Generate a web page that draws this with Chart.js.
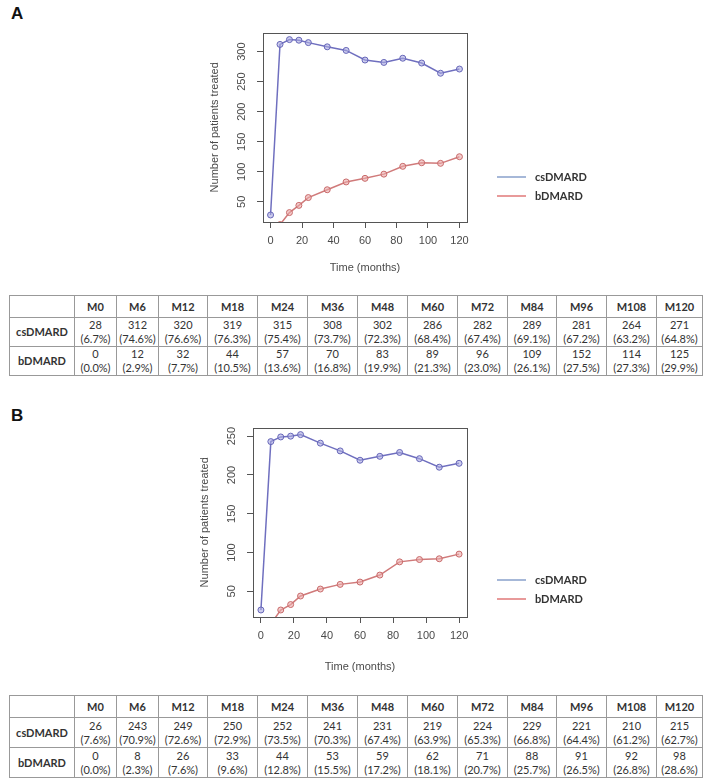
<!DOCTYPE html>
<html>
<head>
<meta charset="utf-8">
<script src="https://cdn.jsdelivr.net/npm/chart.js@4.4.1/dist/chart.umd.min.js"></script>
<style>
body{margin:0;background:#fff;width:708px;height:782px;position:relative;overflow:hidden;font-family:"Liberation Sans",Arial,sans-serif}
.panel{position:absolute;font-weight:bold;font-size:17px;color:#111}
canvas{position:absolute}
.leg{position:absolute;font-family:Lato,sans-serif;font-weight:bold;font-size:11px;color:#333}
.leg div{position:relative;height:19px;line-height:19px;padding-left:38px}
.leg span{position:absolute;left:0;top:9px;width:29px;height:2px}
table{position:absolute;border-collapse:collapse;table-layout:fixed;font-family:Lato,sans-serif;font-size:11px;color:#333}
td{border:1px solid #999;text-align:center;padding:0;line-height:14px}
td.h{font-weight:bold}
</style>
</head>
<body>
<div class="panel" style="left:11px;top:4px">A</div>
<div class="panel" style="left:11px;top:406px">B</div>

<canvas id="chartA" width="420" height="260" style="left:180px;top:20px"></canvas>
<canvas id="chartB" width="430" height="260" style="left:170px;top:415px"></canvas>

<div class="leg" style="left:497px;top:167px">
  <div><span style="background:#a6b8d8"></span>csDMARD</div>
  <div><span style="background:#e89a9a"></span>bDMARD</div>
</div>
<div class="leg" style="left:497px;top:570px">
  <div><span style="background:#a6b8d8"></span>csDMARD</div>
  <div><span style="background:#e89a9a"></span>bDMARD</div>
</div>

<table id="tableA" style="left:9px;top:295px"></table>
<table id="tableB" style="left:9px;top:695px"></table>

<script>
// time points (months) and table headers
const months = [0, 6, 12, 18, 24, 36, 48, 60, 72, 84, 96, 108, 120];
const colLabels = ['M0','M6','M12','M18','M24','M36','M48','M60','M72','M84','M96','M108','M120'];
const xTicks = [0, 20, 40, 60, 80, 100, 120];

// panel A
const csA = [28, 312, 320, 319, 315, 308, 302, 286, 282, 289, 281, 264, 271];
const csApct = ['6.7','74.6','76.6','76.3','75.4','73.7','72.3','68.4','67.4','69.1','67.2','63.2','64.8'];
const bA = [0, 12, 32, 44, 57, 70, 83, 89, 96, 109, 152, 114, 125];     // as printed in the table
const bAplot = [0, 12, 32, 44, 57, 70, 83, 89, 96, 109, 115, 114, 125]; // as drawn in the plot
const bApct = ['0.0','2.9','7.7','10.5','13.6','16.8','19.9','21.3','23.0','26.1','27.5','27.3','29.9'];
const yTicksA = [50, 100, 150, 200, 250, 300];

// panel B
const csB = [26, 243, 249, 250, 252, 241, 231, 219, 224, 229, 221, 210, 215];
const csBpct = ['7.6','70.9','72.6','72.9','73.5','70.3','67.4','63.9','65.3','66.8','64.4','61.2','62.7'];
const bB = [0, 8, 26, 33, 44, 53, 59, 62, 71, 88, 91, 92, 98];
const bBpct = ['0.0','2.3','7.6','9.6','12.8','15.5','17.2','18.1','20.7','25.7','26.5','26.8','28.6'];
const yTicksB = [50, 100, 150, 200, 250];

const colWidths = [65, 42, 42, 49, 50, 50, 50, 50, 50, 50, 49, 50, 50, 46];

const axisColor = '#555';
const textColor = '#4a4a4a';
const axisFont = {family: '"Liberation Sans", Arial, sans-serif', size: 11};

// R style plot frame
const boxPlugin = {
    id: 'box',
    afterDatasetsDraw(chart) {
        const a = chart.chartArea;
        const ctx = chart.ctx;
        ctx.save();
        ctx.strokeStyle = axisColor;
        ctx.lineWidth = 1;
        ctx.strokeRect(Math.round(a.left) + 0.5, Math.round(a.top) + 0.5, Math.round(a.right - a.left), Math.round(a.bottom - a.top));
        ctx.restore();
    }
};

function makeChart(id, cs, b, yTicks, rightPad, yWidth, xTitlePad) {
    // R default axis range: data range of the first series plus 4%
    const lo = Math.min(...cs), hi = Math.max(...cs);
    const ext = (hi - lo) * 0.04;
    new Chart(document.getElementById(id), {
        type: 'line',
        data: {
            datasets: [
                {
                    label: 'csDMARD',
                    data: months.map((m, i) => ({x: m, y: cs[i]})),
                    borderColor: '#6f6fbf',
                    backgroundColor: 'rgba(170,170,225,0.6)',
                    pointBorderColor: '#6666b8',
                    borderWidth: 1.5,
                    pointRadius: 3,
                    pointBorderWidth: 1
                },
                {
                    label: 'bDMARD',
                    data: months.map((m, i) => ({x: m, y: b[i]})),
                    borderColor: '#d07a7a',
                    backgroundColor: 'rgba(235,170,170,0.6)',
                    pointBorderColor: '#c86a6a',
                    borderWidth: 1.5,
                    pointRadius: 3,
                    pointBorderWidth: 1
                }
            ]
        },
        options: {
            responsive: false,
            animation: false,
            layout: {padding: {top: 9, right: rightPad, bottom: 0, left: 0}},
            plugins: {legend: {display: false}, tooltip: {enabled: false}},
            scales: {
                x: {
                    type: 'linear',
                    min: -4.8,
                    max: 124.8,
                    afterBuildTicks: s => { s.ticks = xTicks.map(v => ({value: v})); },
                    afterFit: s => { s.height = 58; },
                    border: {display: false},
                    grid: {drawOnChartArea: false, drawTicks: true, tickLength: 6, color: axisColor},
                    ticks: {color: textColor, font: axisFont, padding: 6, maxRotation: 0},
                    title: {display: true, text: 'Time (months)', color: textColor, font: axisFont, padding: {top: 0, bottom: xTitlePad}}
                },
                y: {
                    min: lo - ext,
                    max: hi + ext,
                    afterBuildTicks: s => { s.ticks = yTicks.map(v => ({value: v})); },
                    afterFit: s => { s.width = yWidth; },
                    border: {display: false},
                    grid: {drawOnChartArea: false, drawTicks: true, tickLength: 6, color: axisColor},
                    ticks: {color: textColor, font: axisFont, padding: 6, minRotation: 90, maxRotation: 90, crossAlign: 'center'},
                    title: {display: true, text: 'Number of patients treated', color: textColor, font: axisFont, padding: {top: 28, bottom: 0}}
                }
            }
        },
        plugins: [boxPlugin]
    });
}

makeChart('chartA', csA, bAplot, yTicksA, 133, 83, 5);
makeChart('chartB', csB, bB, yTicksB, 133, 83, 1);

function makeTable(id, cs, csPct, b, bPct, rowH) {
    const t = document.getElementById(id);
    let html = '<colgroup>' + colWidths.map(w => '<col style="width:' + w + 'px">').join('') + '</colgroup>';
    html += '<tr style="height:22px"><td></td>' + colLabels.map(c => '<td class="h">' + c + '</td>').join('') + '</tr>';
    html += '<tr style="height:' + rowH + 'px"><td class="h">csDMARD</td>' + cs.map((v, i) => '<td>' + v + '<br>(' + csPct[i] + '%)</td>').join('') + '</tr>';
    html += '<tr style="height:' + rowH + 'px"><td class="h">bDMARD</td>' + b.map((v, i) => '<td>' + v + '<br>(' + bPct[i] + '%)</td>').join('') + '</tr>';
    t.style.width = colWidths.reduce((a, c) => a + c, 0) + 'px';
    t.innerHTML = html;
}

makeTable('tableA', csA, csApct, bA, bApct, 29);
makeTable('tableB', csB, csBpct, bB, bBpct, 30);
</script>
</body>
</html>
